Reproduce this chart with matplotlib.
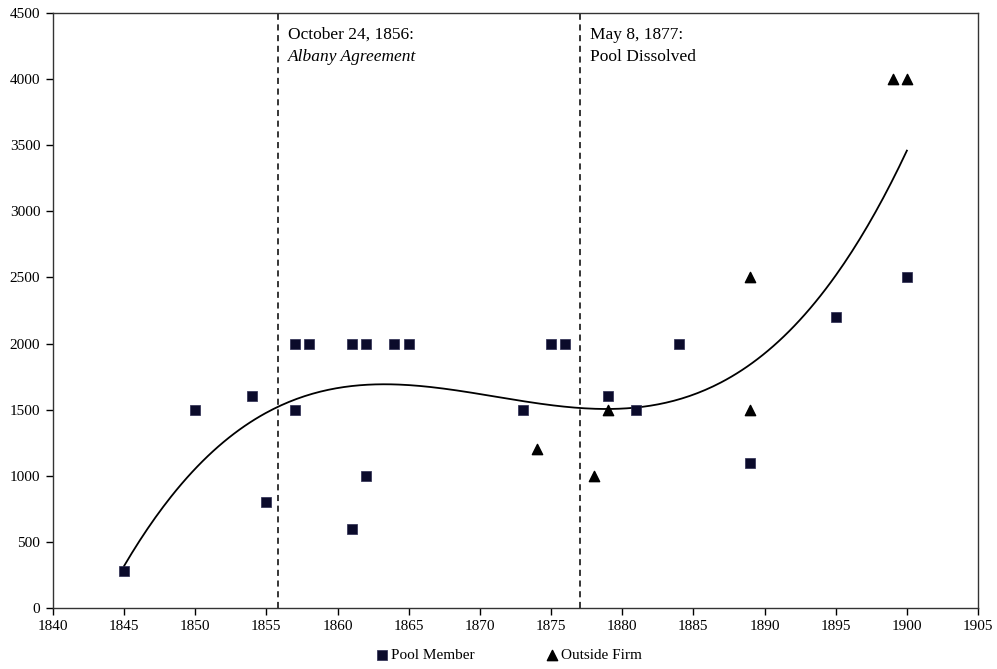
import numpy as np
import matplotlib
matplotlib.use("Agg")
import matplotlib.pyplot as plt

plt.rcParams['font.family'] = ['Liberation Serif', 'DejaVu Serif']

# pool members (year, value)
pool_years = [1845, 1850, 1854, 1855, 1857, 1857, 1858, 1861, 1861, 1862, 1862, 1864, 1865,
              1873, 1875, 1876, 1879, 1881, 1884, 1889, 1895, 1900]
pool_vals = [280, 1500, 1600, 800, 2000, 1500, 2000, 2000, 600, 2000, 1000, 2000, 2000,
             1500, 2000, 2000, 1600, 1500, 2000, 1100, 2200, 2500]

# outside firms
out_years = [1874, 1878, 1879, 1889, 1889, 1899, 1900]
out_vals = [1200, 1000, 1500, 2500, 1500, 4000, 4000]

# trend line (cubic)
trend_years = [1845, 1856, 1866, 1870, 1877, 1880, 1889, 1895, 1900]
trend_vals = [350, 1440, 1690, 1660, 1550, 1530, 1820, 2400, 3540]

events = [1855.8, 1877.0]
event_text = [('October 24, 1856:', 'Albany Agreement', 'italic'),
              ('May 8, 1877:', 'Pool Dissolved', 'normal')]

fig = plt.figure(figsize=(9.97, 6.69), dpi=100)
ax = fig.add_axes([0.053, 0.0912, 0.928, 0.8894])

coef = np.polyfit(np.array(trend_years) - 1870, trend_vals, 3)
xs = np.linspace(1845, 1900, 300)
ax.plot(xs, np.polyval(coef, xs - 1870), color='black', lw=1.3, zorder=2)

for ev, (l1, l2, st) in zip(events, event_text):
    ax.axvline(ev, color='black', lw=1.1, ls=(0, (4, 3)), zorder=1)
    ax.text(ev + 0.75, 4334, l1, fontsize=12.5, va='center')
    ax.text(ev + 0.75, 4168, l2, fontsize=12.5, style=st, va='center')

ax.scatter(pool_years, pool_vals, marker='s', s=60, color='#0b0b2b', edgecolors='#2a2a50',
           linewidths=0.5, label='Pool Member', zorder=3)
ax.scatter(out_years, out_vals, marker='^', s=55, color='black', label='Outside Firm', zorder=3)

ax.set_xlim(1840, 1905)
ax.set_ylim(0, 4500)
ax.set_xticks(np.arange(1840, 1906, 5))
ax.set_yticks(np.arange(0, 4501, 500))
ax.tick_params(direction='out', length=5, width=1, labelsize=11, pad=4)
for sp in ax.spines.values():
    sp.set_linewidth(1.0)
    sp.set_color('#333333')

ax.legend(loc='center', bbox_to_anchor=(0.492, -0.079), ncol=2, frameon=False,
          fontsize=11, handletextpad=0.05, columnspacing=4.6, handlelength=1)

fig.savefig('out.png', dpi=100)
